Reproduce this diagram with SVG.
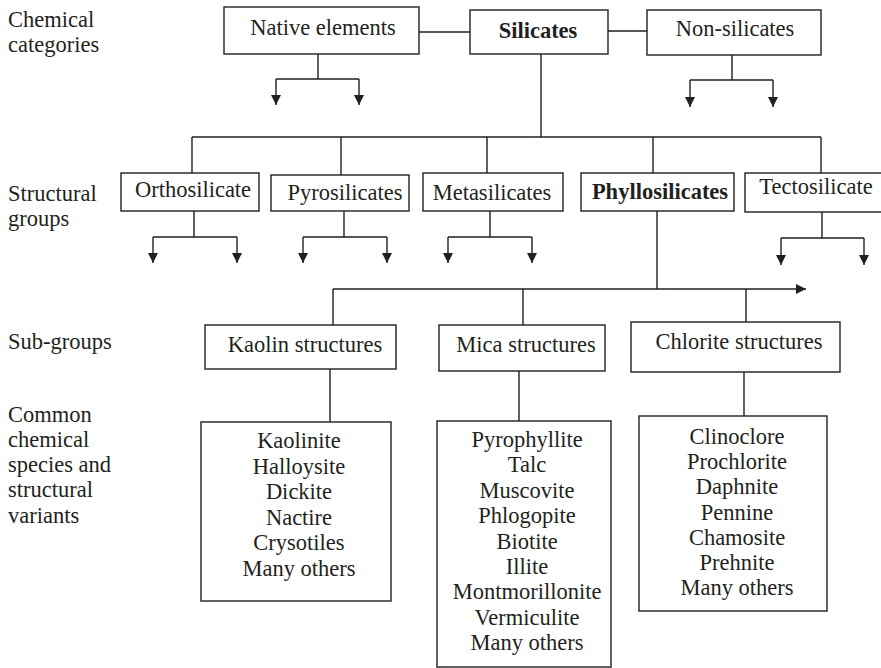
<svg xmlns="http://www.w3.org/2000/svg" width="881" height="668" viewBox="0 0 881 668">
<style>
text{font-family:"Liberation Serif","Times New Roman",serif;font-size:22.5px;fill:#231f20}
.c{text-anchor:middle}
.b{font-weight:bold}
rect{fill:#fff;stroke:#231f20;stroke-width:1.4}
.ln{fill:none;stroke:#231f20;stroke-width:1.4}
.ar{marker-end:url(#ah)}
</style>
<defs>
<marker id="ah" viewBox="0 0 10 10" refX="10" refY="5" markerWidth="10" markerHeight="10" orient="auto" markerUnits="userSpaceOnUse">
<path d="M0,0 L10,5 L0,10 z" fill="#231f20"/>
</marker>
</defs>

<g id="labels">
<text x="8" y="27">Chemical</text>
<text x="8" y="52">categories</text>
<text x="8" y="201">Structural</text>
<text x="8" y="226">groups</text>
<text x="8" y="349">Sub-groups</text>
<text x="8" y="422">Common</text>
<text x="8" y="447">chemical</text>
<text x="8" y="472">species and</text>
<text x="8" y="497">structural</text>
<text x="8" y="523">variants</text>
</g>

<g id="connectors">
<path class="ln" d="M419,32 H470 M608,31 H647"/>
<path class="ln" d="M318,54 V79 M276,79 H359"/>
<path class="ln ar" d="M276,79 V105"/>
<path class="ln ar" d="M359,79 V105"/>
<path class="ln" d="M732,55 V80 M690,80 H773"/>
<path class="ln ar" d="M690,80 V107"/>
<path class="ln ar" d="M773,80 V107"/>
<path class="ln" d="M541,54 V137 M192,137 H821 M192,137 V173 M341,137 V175 M487,137 V173 M653,137 V173 M821,137 V173"/>
<path class="ln" d="M194,211 V237 M153,237 H237"/>
<path class="ln ar" d="M153,237 V263"/>
<path class="ln ar" d="M237,237 V263"/>
<path class="ln" d="M344,211 V237 M303,237 H387"/>
<path class="ln ar" d="M303,237 V263"/>
<path class="ln ar" d="M387,237 V263"/>
<path class="ln" d="M490,211 V237 M448,237 H532"/>
<path class="ln ar" d="M448,237 V263"/>
<path class="ln ar" d="M532,237 V263"/>
<path class="ln" d="M822,212 V238 M781,238 H864"/>
<path class="ln ar" d="M781,238 V265"/>
<path class="ln ar" d="M864,238 V265"/>
<path class="ln" d="M657,211 V289"/>
<path class="ln ar" d="M333,289 H806"/>
<path class="ln" d="M333,289 V325 M523,289 V325 M746,289 V322"/>
<path class="ln" d="M330,369 V422 M519,371 V421 M744,372 V416"/>
</g>

<g id="native-elements">
<rect x="224" y="7" width="195" height="47"/>
<text class="c" x="323" y="35">Native elements</text>
</g>
<g id="silicates">
<rect x="470" y="10" width="138" height="44"/>
<text class="c b" x="538" y="38">Silicates</text>
</g>
<g id="non-silicates">
<rect x="647" y="10" width="174" height="45"/>
<text class="c" x="735" y="36">Non-silicates</text>
</g>

<g id="orthosilicate">
<rect x="121" y="173" width="138" height="38"/>
<text class="c" x="193" y="197">Orthosilicate</text>
</g>
<g id="pyrosilicates">
<rect x="271" y="175" width="138" height="36"/>
<text class="c" x="345" y="200">Pyrosilicates</text>
</g>
<g id="metasilicates">
<rect x="423" y="173" width="140" height="38"/>
<text class="c" x="492" y="200">Metasilicates</text>
</g>
<g id="phyllosilicates">
<rect x="581" y="173" width="153" height="38"/>
<text class="c b" x="660" y="199">Phyllosilicates</text>
</g>
<g id="tectosilicate">
<rect x="745" y="173" width="145" height="39"/>
<text class="c" x="816" y="194">Tectosilicate</text>
</g>

<g id="kaolin-structures">
<rect x="205" y="325" width="191" height="44"/>
<text class="c" x="305" y="352">Kaolin structures</text>
</g>
<g id="mica-structures">
<rect x="439" y="325" width="166" height="46"/>
<text class="c" x="526" y="352">Mica structures</text>
</g>
<g id="chlorite-structures">
<rect x="631" y="322" width="209" height="50"/>
<text class="c" x="739" y="349">Chlorite structures</text>
</g>

<g id="kaolin-species">
<rect x="201" y="422" width="190" height="179"/>
<text class="c" x="299" y="448">Kaolinite</text>
<text class="c" x="299" y="473.5">Halloysite</text>
<text class="c" x="299" y="499">Dickite</text>
<text class="c" x="299" y="524.5">Nactire</text>
<text class="c" x="299" y="550">Crysotiles</text>
<text class="c" x="299" y="575.5">Many others</text>
</g>
<g id="mica-species">
<rect x="437" y="421" width="174" height="246"/>
<text class="c" x="527" y="447">Pyrophyllite</text>
<text class="c" x="527" y="472.4">Talc</text>
<text class="c" x="527" y="497.8">Muscovite</text>
<text class="c" x="527" y="523.2">Phlogopite</text>
<text class="c" x="527" y="548.6">Biotite</text>
<text class="c" x="527" y="574">Illite</text>
<text class="c" x="527" y="599.4">Montmorillonite</text>
<text class="c" x="527" y="624.8">Vermiculite</text>
<text class="c" x="527" y="650.2">Many others</text>
</g>
<g id="chlorite-species">
<rect x="639" y="416" width="188" height="195"/>
<text class="c" x="737" y="444">Clinoclore</text>
<text class="c" x="737" y="469.2">Prochlorite</text>
<text class="c" x="737" y="494.4">Daphnite</text>
<text class="c" x="737" y="519.6">Pennine</text>
<text class="c" x="737" y="544.8">Chamosite</text>
<text class="c" x="737" y="570">Prehnite</text>
<text class="c" x="737" y="595.2">Many others</text>
</g>
</svg>
